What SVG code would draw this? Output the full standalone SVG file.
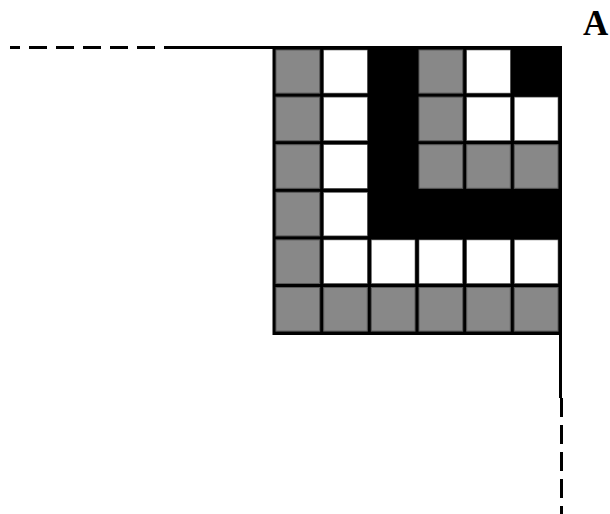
<svg xmlns="http://www.w3.org/2000/svg" width="610" height="514" viewBox="0 0 610 514">
<style>
.g{fill:#888888;stroke:#5a5a5a;stroke-width:1}
.w{fill:#ffffff;stroke:#5a5a5a;stroke-width:0.6}
.solid{stroke:#000;stroke-width:3;fill:none}
.dash{stroke:#000;stroke-width:3;fill:none}
</style>
<rect width="610" height="514" fill="#fff"/>
<g id="connectors">
<line class="dash" x1="182" y1="47.5" x2="10" y2="47.5" stroke-dasharray="18 9"/>
<line class="solid" x1="180" y1="47.5" x2="561" y2="47.5"/>
<line class="solid" x1="560.5" y1="46" x2="560.5" y2="398"/>
<line class="dash" x1="561.5" y1="398" x2="561.5" y2="514" stroke-dasharray="19 8"/>
</g>
<g id="grid">
<rect x="272.5" y="46" width="289.5" height="289" fill="#000"/>
<!-- row 0 -->
<rect class="g" x="276" y="50" width="43.7" height="43.1"/>
<rect class="w" x="323.7" y="50" width="43.6" height="43.1"/>
<rect class="g" x="419" y="50" width="43.7" height="43.1"/>
<rect class="w" x="466.7" y="50" width="43.6" height="43.1"/>
<!-- row 1 -->
<rect class="g" x="276" y="97.1" width="43.7" height="43.6"/>
<rect class="w" x="323.7" y="97.1" width="43.6" height="43.6"/>
<rect class="g" x="419" y="97.1" width="43.7" height="43.6"/>
<rect class="w" x="466.7" y="97.1" width="43.6" height="43.6"/>
<rect class="w" x="514.3" y="97.1" width="43.7" height="43.6"/>
<!-- row 2 -->
<rect class="g" x="276" y="144.7" width="43.7" height="43.6"/>
<rect class="w" x="323.7" y="144.7" width="43.6" height="43.6"/>
<rect class="g" x="419" y="144.7" width="43.7" height="43.6"/>
<rect class="g" x="466.7" y="144.7" width="43.6" height="43.6"/>
<rect class="g" x="514.3" y="144.7" width="43.7" height="43.6"/>
<!-- row 3 -->
<rect class="g" x="276" y="192.3" width="43.7" height="43.6"/>
<rect class="w" x="323.7" y="192.3" width="43.6" height="43.6"/>
<!-- row 4 -->
<rect class="g" x="276" y="239.9" width="43.7" height="43.6"/>
<rect class="w" x="323.7" y="239.9" width="43.6" height="43.6"/>
<rect class="w" x="371.3" y="239.9" width="43.7" height="43.6"/>
<rect class="w" x="419" y="239.9" width="43.7" height="43.6"/>
<rect class="w" x="466.7" y="239.9" width="43.6" height="43.6"/>
<rect class="w" x="514.3" y="239.9" width="43.7" height="43.6"/>
<!-- row 5 -->
<rect class="g" x="276" y="287.5" width="43.7" height="43.6"/>
<rect class="g" x="323.7" y="287.5" width="43.6" height="43.6"/>
<rect class="g" x="371.3" y="287.5" width="43.7" height="43.6"/>
<rect class="g" x="419" y="287.5" width="43.7" height="43.6"/>
<rect class="g" x="466.7" y="287.5" width="43.6" height="43.6"/>
<rect class="g" x="514.3" y="287.5" width="43.7" height="43.6"/>
</g>
<g id="label">
<text x="583" y="35" font-family="'Liberation Serif', 'Times New Roman', serif" font-weight="bold" font-size="35" fill="#000">A</text>
</g>
</svg>
